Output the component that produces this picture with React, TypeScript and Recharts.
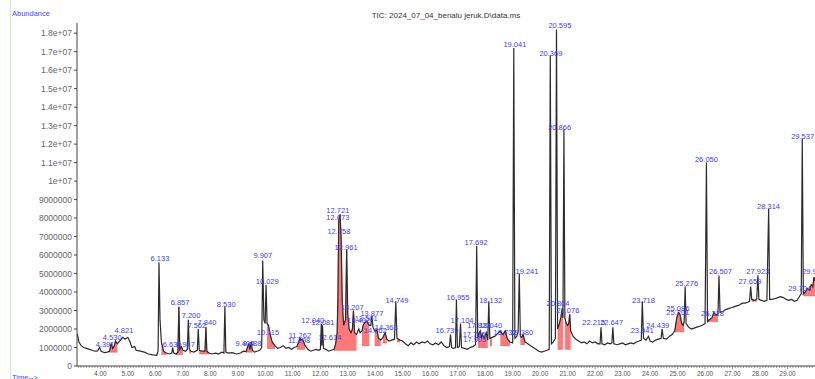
import React from "react";
import {
  ComposedChart,
  Line,
  Area,
  Scatter,
  XAxis,
  YAxis,
} from "recharts";

// abundance in millions, time in minutes
const trace: [number, number][] = [
  [3.16, 1.75], [3.22, 1.3], [3.3, 1.1], [3.4, 1.0], [3.5, 0.95], [3.6, 0.9], [3.7, 0.85], [3.8, 0.8],
  [3.9, 0.82], [3.97, 1.0], [4.03, 0.8], [4.15, 0.72], [4.25, 0.75], [4.33, 0.8], [4.391, 1.2], [4.45, 0.95],
  [4.5, 1.05], [4.55, 1.35], [4.62, 1.2], [4.7, 1.35], [4.821, 1.55], [4.9, 1.45], [5.0, 1.55], [5.08, 1.3],
  [5.15, 1.0], [5.25, 1.05], [5.3, 0.85], [5.45, 0.8], [5.6, 0.75], [5.75, 0.65], [5.9, 0.6], [6.05, 0.58],
  [6.1, 0.8], [6.133, 5.6], [6.17, 2.5], [6.22, 1.3], [6.3, 0.8], [6.4, 0.7], [6.5, 0.65], [6.6, 0.7],
  [6.63, 1.0], [6.67, 0.7], [6.75, 0.65], [6.82, 0.75], [6.857, 3.2], [6.89, 0.9], [6.947, 1.05], [7.0, 0.85],
  [7.1, 0.8], [7.165, 0.9], [7.2, 2.5], [7.235, 0.9], [7.3, 0.8], [7.4, 0.75], [7.527, 0.85], [7.562, 2.0],
  [7.597, 0.85], [7.7, 0.8], [7.805, 0.8], [7.84, 2.1], [7.875, 0.8], [7.95, 0.7], [8.05, 0.65], [8.2, 0.7],
  [8.3, 0.65], [8.42, 0.75], [8.495, 0.7], [8.53, 3.2], [8.565, 0.75], [8.65, 0.7], [8.8, 0.72], [8.95, 0.65],
  [9.1, 0.7], [9.2, 0.8], [9.3, 0.78], [9.36, 1.05], [9.404, 1.2], [9.44, 0.9], [9.488, 1.3], [9.53, 0.85],
  [9.6, 0.75], [9.7, 0.8], [9.8, 0.85], [9.87, 1.0], [9.907, 5.7], [9.95, 2.5], [9.995, 2.3], [10.029, 4.4],
  [10.065, 2.3], [10.115, 2.2], [10.18, 1.7], [10.25, 1.3], [10.35, 1.1], [10.45, 0.95], [10.55, 1.0], [10.65, 1.1],
  [10.75, 0.95], [10.85, 1.0], [10.95, 0.9], [11.05, 1.0], [11.15, 1.05], [11.262, 1.5], [11.298, 1.4], [11.35, 1.45],
  [11.45, 1.1], [11.55, 0.9], [11.65, 0.8], [11.75, 0.85], [11.85, 0.9], [11.95, 0.85], [12.005, 0.9], [12.04, 2.3],
  [12.06, 1.1], [12.081, 2.2], [12.12, 0.95], [12.2, 0.9], [12.3, 0.8], [12.4, 0.85], [12.5, 0.9], [12.56, 1.2],
  [12.614, 1.8], [12.64, 3.5], [12.673, 7.9], [12.721, 8.2], [12.758, 7.0], [12.8, 3.5], [12.85, 2.2], [12.92, 2.5],
  [12.961, 6.3], [13.0, 2.8], [13.05, 2.0], [13.12, 1.8], [13.17, 2.0], [13.207, 3.0], [13.25, 1.8], [13.32, 1.7],
  [13.402, 2.0], [13.45, 1.8], [13.52, 1.9], [13.561, 2.2], [13.62, 2.35], [13.7, 2.4], [13.78, 2.2], [13.84, 2.2],
  [13.877, 2.7], [13.92, 2.1], [13.98, 1.9], [14.062, 1.95], [14.12, 1.5], [14.2, 1.4], [14.28, 1.55], [14.363, 1.8],
  [14.42, 1.45], [14.5, 1.35], [14.6, 1.4], [14.7, 1.45], [14.749, 3.5], [14.79, 1.5], [14.9, 1.4], [15.0, 1.35],
  [15.1, 1.2], [15.2, 1.1], [15.3, 1.25], [15.4, 1.15], [15.5, 1.3], [15.6, 1.2], [15.7, 1.3], [15.8, 1.25],
  [15.9, 1.35], [16.0, 1.2], [16.1, 1.15], [16.2, 1.25], [16.3, 1.15], [16.4, 1.3], [16.5, 1.1], [16.6, 1.0],
  [16.7, 1.05], [16.739, 1.7], [16.78, 1.0], [16.85, 0.95], [16.92, 1.0], [16.955, 3.6], [16.99, 1.0], [17.06, 1.05],
  [17.104, 2.3], [17.14, 1.0], [17.25, 0.95], [17.35, 0.9], [17.45, 1.0], [17.55, 1.05], [17.65, 1.15], [17.692, 6.5],
  [17.73, 1.5], [17.785, 1.8], [17.823, 1.9], [17.87, 1.5], [17.903, 1.7], [17.96, 1.5], [18.04, 1.8], [18.095, 1.4],
  [18.132, 3.5], [18.17, 1.5], [18.25, 1.55], [18.35, 1.6], [18.45, 1.75], [18.55, 1.9], [18.65, 1.7], [18.732, 1.9],
  [18.8, 1.5], [18.9, 1.3], [19.0, 1.25], [19.041, 17.2], [19.08, 1.5], [19.15, 1.6], [19.2, 1.9], [19.241, 5.0],
  [19.28, 1.6], [19.33, 1.55], [19.38, 1.7], [19.45, 1.3], [19.55, 1.2], [19.65, 1.1], [19.75, 1.0], [19.85, 0.9],
  [19.95, 0.8], [20.05, 0.75], [20.15, 0.8], [20.25, 0.85], [20.33, 0.9], [20.369, 16.8], [20.41, 1.2], [20.48, 1.3],
  [20.555, 1.5], [20.595, 18.2], [20.635, 2.0], [20.7, 2.3], [20.75, 2.6], [20.804, 3.1], [20.83, 2.6], [20.866, 12.8],
  [20.9, 2.6], [20.95, 2.3], [21.0, 2.2], [21.04, 2.3], [21.076, 2.8], [21.11, 1.9], [21.2, 1.6], [21.3, 1.45],
  [21.4, 1.35], [21.5, 1.25], [21.6, 1.3], [21.7, 1.2], [21.8, 1.35], [21.9, 1.25], [22.0, 1.3], [22.1, 1.2],
  [22.18, 1.2], [22.215, 2.1], [22.25, 1.2], [22.35, 1.15], [22.45, 1.25], [22.55, 1.2], [22.61, 1.25], [22.647, 2.1],
  [22.68, 1.2], [22.8, 1.15], [22.9, 1.2], [23.0, 1.25], [23.1, 1.15], [23.2, 1.2], [23.3, 1.25], [23.4, 1.2],
  [23.5, 1.3], [23.6, 1.35], [23.68, 1.4], [23.718, 3.5], [23.76, 1.5], [23.85, 1.4], [23.941, 1.6], [24.0, 1.35],
  [24.1, 1.3], [24.2, 1.4], [24.3, 1.45], [24.4, 1.5], [24.439, 2.0], [24.48, 1.5], [24.6, 1.45], [24.7, 1.6],
  [24.8, 1.7], [24.9, 1.9], [24.97, 2.6], [25.03, 2.9], [25.086, 2.8], [25.15, 2.3], [25.2, 2.2], [25.24, 2.4],
  [25.276, 4.3], [25.31, 2.3], [25.4, 2.1], [25.5, 2.0], [25.6, 2.05], [25.7, 2.1], [25.8, 2.15], [25.9, 2.2],
  [26.0, 2.3], [26.05, 11.0], [26.09, 2.4], [26.15, 2.5], [26.25, 2.6], [26.318, 2.9], [26.4, 2.75], [26.47, 2.8],
  [26.507, 4.9], [26.545, 2.9], [26.65, 2.95], [26.75, 3.05], [26.85, 3.1], [26.95, 3.15], [27.05, 3.2], [27.15, 3.25],
  [27.25, 3.3], [27.35, 3.4], [27.45, 3.4], [27.55, 3.45], [27.62, 3.5], [27.659, 4.3], [27.7, 3.6], [27.8, 3.55],
  [27.88, 3.6], [27.923, 4.9], [27.96, 3.6], [28.05, 3.55], [28.15, 3.5], [28.25, 3.55], [28.314, 8.5], [28.35, 3.6],
  [28.45, 3.6], [28.55, 3.65], [28.65, 3.7], [28.75, 3.75], [28.85, 3.7], [28.95, 3.6], [29.05, 3.55], [29.15, 3.6],
  [29.25, 3.5], [29.35, 3.55], [29.45, 3.8], [29.5, 3.9], [29.537, 12.3], [29.575, 3.9], [29.65, 4.0], [29.72, 4.2],
  [29.8, 4.1], [29.86, 4.4], [29.92, 4.3], [29.96, 4.8], [30.0, 4.6],
];

// integrated regions: start, end, baseline (millions)
const integrated: [number, number, number][] = [
  [4.33, 4.62, 0.75], [6.22, 6.4, 0.62], [6.75, 7.0, 0.62], [7.235, 7.3, 0.7], [7.597, 7.95, 0.65],
  [9.3, 9.53, 0.75], [10.065, 10.35, 0.95], [11.15, 11.45, 0.9], [12.5, 13.32, 0.85], [13.52, 13.78, 1.1],
  [13.98, 14.2, 1.1], [14.28, 14.42, 1.25], [14.79, 14.9, 1.3], [17.73, 18.095, 1.0], [18.17, 18.25, 1.1],
  [18.55, 18.9, 1.1], [19.28, 19.45, 1.15], [20.635, 20.83, 0.9], [20.9, 21.11, 0.9], [24.9, 25.24, 1.85],
  [26.09, 26.47, 2.4], [27.7, 27.88, 3.5], [29.575, 30.0, 3.8],
];

const peakLabels: [string, number, number][] = [
  ["4.391", 4.17, 1.05], ["4.530", 4.43, 1.38], ["4.821", 4.86, 1.76], ["6.133", 6.17, 5.7],
  ["6.630", 6.61, 1.05], ["6.947", 7.1, 1.05], ["6.857", 6.9, 3.32], ["7.200", 7.3, 2.62],
  ["7.562", 7.51, 2.08], ["7.840", 7.88, 2.24], ["8.530", 8.58, 3.19], ["9.404", 9.26, 1.08],
  ["9.488", 9.52, 1.08], ["9.907", 9.91, 5.84], ["10.029", 10.07, 4.41], ["10.115", 10.1, 1.7],
  ["11.262", 11.26, 1.49], ["11.298", 11.23, 1.27], ["12.040", 11.73, 2.35], ["12.081", 12.1, 2.24],
  ["12.614", 12.35, 1.41], ["12.721", 12.64, 8.3], ["12.673", 12.64, 7.89], ["12.758", 12.68, 7.14],
  ["12.961", 12.94, 6.27], ["13.207", 13.16, 3.03], ["13.402", 13.4, 2.35], ["13.561", 13.67, 2.46],
  ["13.877", 13.88, 2.73], ["14.062", 14.0, 1.81], ["14.363", 14.4, 1.92], ["14.749", 14.79, 3.43],
  ["16.739", 16.61, 1.76], ["16.955", 17.01, 3.59], ["17.104", 17.16, 2.35], ["17.692", 17.67, 6.57],
  ["17.785", 17.6, 1.55], ["17.823", 17.77, 2.08], ["17.903", 17.62, 1.3], ["18.040", 18.2, 2.08],
  ["18.132", 18.2, 3.41], ["18.732", 18.72, 1.7], ["19.380", 19.33, 1.7], ["19.041", 19.08, 17.27],
  ["19.241", 19.52, 5.0], ["20.369", 20.39, 16.78], ["20.595", 20.72, 18.3], ["20.866", 20.71, 12.78],
  ["20.804", 20.65, 3.27], ["21.076", 21.01, 2.84], ["22.215", 21.95, 2.24], ["22.647", 22.6, 2.24],
  ["23.718", 23.76, 3.43], ["23.941", 23.71, 1.81], ["24.439", 24.28, 2.08], ["25.086", 25.01, 3.0],
  ["25.201", 25.01, 2.78], ["25.276", 25.33, 4.3], ["26.050", 26.05, 11.05], ["26.318", 26.27, 2.73],
  ["26.507", 26.56, 4.95], ["27.659", 27.63, 4.41], ["27.923", 27.92, 4.95], ["28.314", 28.31, 8.51],
  ["29.537", 29.55, 12.3], ["29.937", 29.95, 5.0], ["29.704", 29.44, 4.03],
];

const yTicks = [0, 1, 2, 3, 4, 5, 6, 7, 8, 9, 10, 11, 12, 13, 14, 15, 16, 17, 18];
const majorTimes = [4, 5, 6, 7, 8, 9, 10, 11, 12, 13, 14, 15, 16, 17, 18, 19, 20, 21, 22, 23, 24, 25, 26, 27, 28, 29];
const minorTimes = Array.from({ length: 268 }, (_, i) => Math.round((3.2 + i * 0.1) * 10) / 10);

const lineData = trace.map(([t, v]) => ({ t, v }));
const labelData = peakLabels.map(([text, t, v]) => ({ text, t, v }));

const fmtY = (v: number) => {
  if (v === 0) return "0";
  if (v >= 10) return `${+(v / 10).toFixed(1)}e+07`;
  return String(v * 1000000);
};

const TimeTick = (props: any) => {
  const { x, y, payload } = props;
  const major = majorTimes.includes(payload.value);
  return (
    <g>
      <line x1={x} x2={x} y1={y} y2={y + (major ? 3 : 2)} stroke="#555" strokeWidth={0.6} />
      {major && (
        <text x={x} y={y + 10} textAnchor="middle" fontSize={6.5} fill="#555" fontFamily="Liberation Sans, Arial">
          {payload.value.toFixed(2)}
        </text>
      )}
    </g>
  );
};

const PeakText = (props: any) => (
  <text x={props.cx} y={props.cy} textAnchor="middle" fontSize={7.5} fill="#3c3cff" fontFamily="Liberation Sans, Arial">
    {props.payload.text}
  </text>
);

export default function App() {
  return (
    <div style={{ position: "absolute", left: 0, top: 0, width: 815, height: 379, background: "#fff", overflow: "hidden" }}>
      <div style={{ position: "absolute", left: 10, top: 0, width: 1, height: 379, background: "#c4f0c4" }} />
      <div style={{ position: "absolute", left: 12, top: 9, fontSize: 7.5, color: "#4848ff", fontFamily: "Liberation Sans, Arial" }}>
        Abundance
      </div>
      <div style={{ position: "absolute", left: 12, top: 373, fontSize: 7.5, color: "#4848ff", fontFamily: "Liberation Sans, Arial" }}>
        Time--&gt;
      </div>
      <div style={{ position: "absolute", left: 77, width: 738, top: 11, textAlign: "center", fontSize: 8, color: "#333", fontFamily: "Liberation Sans, Arial" }}>
        TIC: 2024_07_04_benalu jeruk.D\data.ms
      </div>
      <div style={{ position: "absolute", left: 0, top: 0 }}>
        <ComposedChart width={815} height={379} margin={{ top: 23, right: 0, left: 0, bottom: 0 }}>
          <XAxis
            type="number"
            dataKey="t"
            domain={[3.15, 30]}
            allowDataOverflow
            ticks={minorTimes}
            interval={0}
            tick={TimeTick}
            tickLine={false}
            tickSize={0}
            tickMargin={0}
            height={13}
            stroke="#444"
          />
          <YAxis
            type="number"
            dataKey="v"
            domain={[0, 18.55]}
            ticks={yTicks}
            interval={0}
            tickFormatter={fmtY}
            width={77}
            tickSize={3}
            tickMargin={2}
            stroke="#444"
            tick={{ fontSize: 8.5, fill: "#666", fontFamily: "Liberation Sans, Arial" }}
          />
          {integrated.map(([a, b, lo], i) => (
            <Area
              key={i}
              data={trace.filter(([t]) => t >= a && t <= b).map(([t, v]) => ({ t, r: [lo, v] }))}
              dataKey="r"
              type="linear"
              stroke="#ff3030"
              strokeWidth={0.5}
              fill="#ff4040"
              fillOpacity={0.7}
              isAnimationActive={false}
            />
          ))}
          <Line
            data={lineData}
            dataKey="v"
            type="linear"
            dot={false}
            stroke="#2b2b2b"
            strokeWidth={1.2}
            isAnimationActive={false}
          />
          <Scatter data={labelData} dataKey="v" shape={PeakText} isAnimationActive={false} />
        </ComposedChart>
      </div>
    </div>
  );
}
